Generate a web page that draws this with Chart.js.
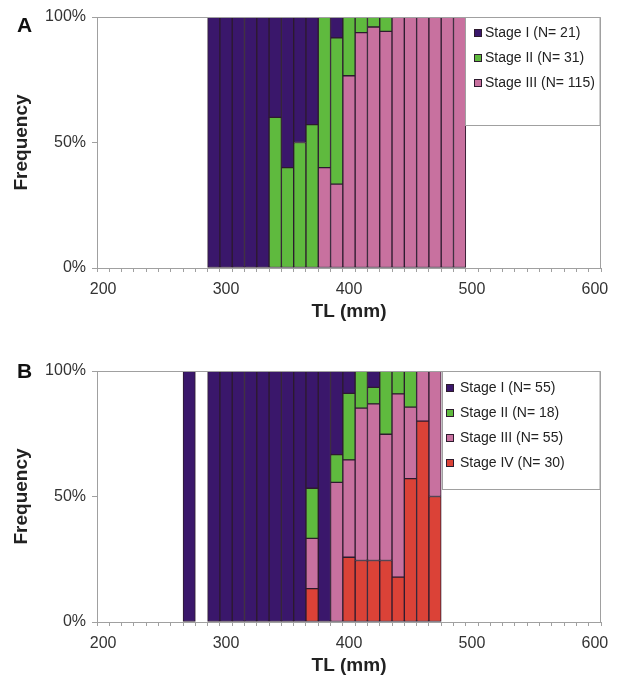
<!DOCTYPE html>
<html>
<head>
<meta charset="utf-8">
<script src="https://cdn.jsdelivr.net/npm/chart.js@4.4.0/dist/chart.umd.min.js"></script>
<style>
  html, body { margin: 0; padding: 0; background: #fff; overflow: hidden; }
  .panel { position: absolute; left: 0; width: 620px; height: 340px; }
  #panelA { top: 0; }
  #panelB { top: 354px; }
</style>
</head>
<body>
<div class="panel" id="panelA"><canvas id="chartA" width="620" height="340"></canvas></div>
<div class="panel" id="panelB"><canvas id="chartB" width="620" height="340"></canvas></div>
<script>
const _ = null;

// 10 mm TL classes
const bins = [
    '200', '210', '220', '230', '240', '250', '260', '270', '280', '290',
    '300', '310', '320', '330', '340', '350', '360', '370', '380', '390',
    '400', '410', '420', '430', '440', '450', '460', '470', '480', '490',
    '500', '510', '520', '530', '540', '550', '560', '570', '580', '590',
    '600'
];
const yTicks = [0, 50, 100];

// Panel A (% per class)
const stageI_A = [
    _, _, _, _, _, _, _, _, _, 100,
    100, 100, 100, 100, 40, 60, 50, 42.9, _, 8.3,
    _, _, _, _, _, _, _, _, _, _,
    _, _, _, _, _, _, _, _, _, _, _
];
const stageII_A = [
    _, _, _, _, _, _, _, _, _, _,
    _, _, _, _, 60, 40, 50, 57.1, 60, 58.3,
    23.4, 6.2, 4, 5.7, _, _, _, _, _, _,
    _, _, _, _, _, _, _, _, _, _, _
];
const stageIII_A = [
    _, _, _, _, _, _, _, _, _, _,
    _, _, _, _, _, _, _, _, 40, 33.4,
    76.6, 93.8, 96, 94.3, 100, 100, 100, 100, 100, 100,
    _, _, _, _, _, _, _, _, _, _, _
];
const legendA = ['Stage I (N= 21)', 'Stage II (N= 31)', 'Stage III (N= 115)'];

// Panel B (% per class)
const stageI_B = [
    _, _, _, _, _, _, _, 100, _, 100,
    100, 100, 100, 100, 100, 100, 100, 46.7, 100, 33.3,
    8.9, _, 6.5, _, _, _, _, _, _, _,
    _, _, _, _, _, _, _, _, _, _, _
];
const stageII_B = [
    _, _, _, _, _, _, _, _, _, _,
    _, _, _, _, _, _, _, 20, _, 11.1,
    26.5, 14.8, 6.6, 25.2, 9.1, 14.4, _, _, _, _,
    _, _, _, _, _, _, _, _, _, _, _
];
const stageIII_B = [
    _, _, _, _, _, _, _, _, _, _,
    _, _, _, _, _, _, _, 20, _, 55.6,
    38.8, 60.7, 62.4, 50.3, 73, 28.5, 20, 50, _, _,
    _, _, _, _, _, _, _, _, _, _, _
];
const stageIV_B = [
    _, _, _, _, _, _, _, _, _, _,
    _, _, _, _, _, _, _, 13.3, _, _,
    25.8, 24.5, 24.5, 24.5, 17.9, 57.1, 80, 50, _, _,
    _, _, _, _, _, _, _, _, _, _, _
];
const legendB = ['Stage I (N= 55)', 'Stage II (N= 18)', 'Stage III (N= 55)', 'Stage IV (N= 30)'];

const stageColors = ['#3a176b', '#5fba3e', '#c8719f', '#db4237'];
const edgeColor = '#2d1b2e';
const frameColor = '#a0a0a0';

Chart.defaults.font.family = '"Liberation Sans", Arial, sans-serif';

// frame, panel letter and the boxed legend inside the plot
const panelDecor = {
    id: 'panelDecor',
    afterDraw(chart, args, opts) {
        const ctx = chart.ctx;
        const a = chart.chartArea;
        ctx.save();

        ctx.strokeStyle = frameColor;
        ctx.lineWidth = 1;
        ctx.beginPath();
        ctx.moveTo(Math.round(a.left) + 0.5, Math.round(a.top) + 0.5);
        ctx.lineTo(Math.round(a.right) - 0.5, Math.round(a.top) + 0.5);
        ctx.lineTo(Math.round(a.right) - 0.5, Math.round(a.bottom));
        ctx.stroke();

        // legend box
        const lx = Math.round(opts.legendLeft) + 0.5;
        const ly = Math.round(a.top) + 0.5;
        const lw = Math.round(a.right) - 1 - lx;
        ctx.fillStyle = '#fff';
        ctx.fillRect(lx, ly, lw, opts.legendHeight);
        ctx.strokeRect(lx, ly, lw, opts.legendHeight);

        ctx.font = '14px "Liberation Sans", Arial, sans-serif';
        ctx.textBaseline = 'middle';
        opts.items.forEach((label, i) => {
            const cy = a.top + opts.firstRow + i * 25;
            ctx.fillStyle = stageColors[i];
            ctx.fillRect(opts.boxX, Math.round(cy - 4), 8, 8);
            ctx.strokeStyle = edgeColor;
            ctx.strokeRect(opts.boxX + 0.5, Math.round(cy - 4) + 0.5, 7, 7);
            ctx.fillStyle = '#222';
            ctx.fillText(label, opts.textX, cy);
        });

        ctx.font = 'bold 21px "Liberation Sans", Arial, sans-serif';
        ctx.textBaseline = 'alphabetic';
        ctx.fillStyle = '#111';
        ctx.fillText(opts.letter, 17, opts.letterY);
        ctx.restore();
    }
};

function makePanel(canvasId, series, decor) {
    // series given top-down as in legend; stacked bottom-up
    const datasets = series.map((data, i) => ({
        label: decor.items[i],
        data: data,
        backgroundColor: stageColors[i],
        borderColor: edgeColor,
        borderWidth: 1,
        borderSkipped: false,
        categoryPercentage: 1,
        barPercentage: 1
    })).reverse();

    return new Chart(document.getElementById(canvasId), {
        type: 'bar',
        data: { labels: bins, datasets: datasets },
        options: {
            responsive: false,
            animation: false,
            layout: { padding: { top: 17, left: 0, right: 19, bottom: 0 } },
            plugins: {
                legend: { display: false },
                tooltip: { enabled: false },
                panelDecor: decor
            },
            scales: {
                x: {
                    stacked: true,
                    afterFit: s => { s.height = 72; },
                    border: { display: true, color: frameColor },
                    grid: {
                        offset: true,
                        drawOnChartArea: false,
                        drawTicks: true,
                        tickLength: 4,
                        color: frameColor
                    },
                    ticks: {
                        autoSkip: false,
                        maxRotation: 0,
                        padding: 8,
                        color: '#333',
                        font: { size: 16 },
                        callback: function(v) {
                            const lab = this.getLabelForValue(v);
                            return Number(lab) % 100 === 0 ? lab : '';
                        }
                    },
                    title: {
                        display: true,
                        text: 'TL (mm)',
                        color: '#222',
                        font: { size: 19, weight: 'bold' },
                        padding: { top: 0, bottom: 16.8 }
                    }
                },
                y: {
                    stacked: true,
                    min: 0,
                    max: 100,
                    afterFit: s => { s.width = 97; },
                    afterBuildTicks: s => { s.ticks = yTicks.map(v => ({ value: v })); },
                    border: { display: true, color: frameColor },
                    grid: {
                        drawOnChartArea: false,
                        drawTicks: true,
                        tickLength: 5,
                        color: frameColor
                    },
                    ticks: {
                        padding: 6,
                        color: '#333',
                        font: { size: 16 },
                        callback: v => v + '%'
                    },
                    title: {
                        display: true,
                        text: 'Frequency',
                        color: '#222',
                        font: { size: 19, weight: 'bold' },
                        padding: { top: 10.3, bottom: 0 }
                    }
                }
            }
        },
        plugins: [panelDecor]
    });
}

makePanel('chartA', [stageI_A, stageII_A, stageIII_A], {
    letter: 'A', letterY: 32,
    items: legendA,
    legendLeft: 465, legendHeight: 108,
    boxX: 474, textX: 485, firstRow: 16
});

makePanel('chartB', [stageI_B, stageII_B, stageIII_B, stageIV_B], {
    letter: 'B', letterY: 24,
    items: legendB,
    legendLeft: 441.5, legendHeight: 118,
    boxX: 446, textX: 460, firstRow: 17
});
</script>
</body>
</html>
